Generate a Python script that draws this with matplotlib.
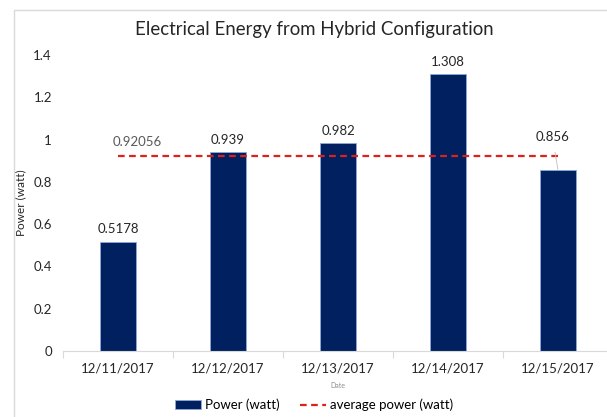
import matplotlib.pyplot as plt
from matplotlib.patches import Rectangle

# data
dates = ['12/11/2017', '12/12/2017', '12/13/2017', '12/14/2017', '12/15/2017']
power = [0.5178, 0.939, 0.982, 1.308, 0.856]
power_labels = ['0.5178', '0.939', '0.982', '1.308', '0.856']
avg_power = 0.92056

plt.rcParams['font.family'] = ['Lato', 'DejaVu Sans']

W, H = 607, 417
fig = plt.figure(figsize=(W / 100, H / 100), dpi=100)

# chart border (cropped on the right like the original)
fig.patches.append(Rectangle((14 / W, -0.1), 1.2, 1 - 10 / H + 0.1, transform=fig.transFigure,
                             fill=False, edgecolor='#d9d9d9', linewidth=1))

ax = fig.add_axes([63 / W, 1 - 351 / H, 550 / W, 296 / H])
x = list(range(len(dates)))

bars = ax.bar(x, power, width=0.32, color='#002060', edgecolor='#8ea9db', linewidth=0.6,
              label='Power (watt)')
line, = ax.plot(x, [avg_power] * len(x), color='#e0201b', linestyle=(0, (3, 2)), linewidth=1.6,
                label='average power (watt)')

ax.set_xlim(-0.5, len(dates) - 0.5)
ax.set_ylim(0, 1.4)
ax.set_yticks([0, 0.2, 0.4, 0.6, 0.8, 1, 1.2, 1.4])
ax.set_yticklabels(['0', '0.2', '0.4', '0.6', '0.8', '1', '1.2', '1.4'])
ax.set_xticks(x)
ax.set_xticklabels(dates)
ax.set_xticks([i + 0.5 for i in range(-1, len(dates))], minor=True)
ax.tick_params(axis='x', which='major', length=0, pad=8, labelsize=9.5, labelcolor='#262626')
ax.tick_params(axis='x', which='minor', length=5, color='#d9d9d9', width=0.8)
ax.tick_params(axis='y', length=0, pad=8, labelsize=9.5, labelcolor='#262626')

for s in ['top', 'right', 'left']:
    ax.spines[s].set_visible(False)
ax.spines['bottom'].set_color('#d9d9d9')
ax.spines['bottom'].set_linewidth(0.8)

# data labels
for i, (v, t) in enumerate(zip(power, power_labels)):
    if i == len(power) - 1:
        ax.annotate(t, xy=(i, v), xytext=(-4, 24), textcoords='offset points', ha='center',
                    va='center', fontsize=9.5, color='#262626',
                    arrowprops=dict(arrowstyle='-', color='#bfbfbf', linewidth=0.6,
                                    shrinkA=5, shrinkB=0))
    else:
        ax.annotate(t, xy=(i, v), xytext=(0, 9), textcoords='offset points', ha='center',
                    va='center', fontsize=9.5, color='#262626')

ax.annotate(f'{avg_power:g}', xy=(0, avg_power), xytext=(-4, 10), textcoords='offset points',
            ha='left', va='center', fontsize=9.5, color='#595959')

ax.set_ylabel('Power (watt)', fontsize=8.5, color='#262626')
ax.yaxis.set_label_coords(-37 / 550, 0.5)
ax.set_xlabel('Date', fontsize=5, color='#8c8c8c', labelpad=6)

fig.text(314 / W, 1 - 30 / H, 'Electrical Energy from Hybrid Configuration', ha='center',
         va='center', fontsize=13.4, color='#262626')

fig.legend(handles=[bars, line], loc='center', bbox_to_anchor=(314 / W, 1 - 405 / H), ncol=2,
           frameon=False, fontsize=9.5, handlelength=2.0, columnspacing=1.5, handletextpad=0.3)

fig.savefig('out.png', dpi=100)
